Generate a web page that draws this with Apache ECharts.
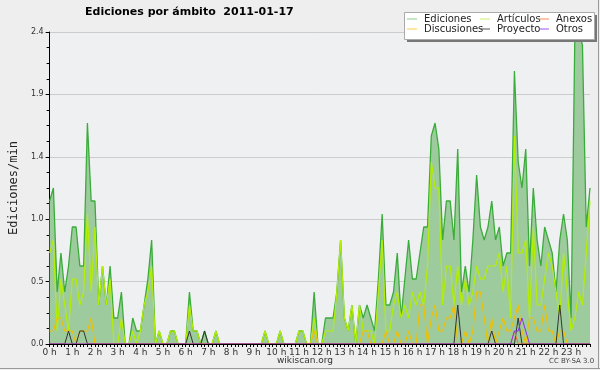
<!DOCTYPE html>
<html>
<head>
<meta charset="utf-8">
<script src="https://cdn.jsdelivr.net/npm/echarts@6/dist/echarts.min.js"></script>
<style>
html,body{margin:0;padding:0;background:#eeeeee;}
#c{width:600px;height:370px;}
</style>
</head>
<body>
<div id="c"></div>
<script>
const titleText = 'Ediciones por ámbito  2011-01-17';
const yAxisName = 'Ediciones/min';
const hourLabels = ['0 h','1 h','2 h','3 h','4 h','5 h','6 h','7 h','8 h','9 h','10 h','11 h','12 h','13 h','14 h','15 h','16 h','17 h','18 h','19 h','20 h','21 h','22 h','23 h'];
const minuteSteps = ['00','10','20','30','40','50'];
const yTicks = [0, 0.48, 0.96, 1.44, 1.92, 2.4];

const ediciones = [
1.1,1.2,0.4,0.7,0.4,0.6, 0.9,0.9,0.6,0.6,1.7,1.1, 1.1,0.3,0.6,0.3,0.6,0.2, 0.2,0.4,0,0,0.2,0.1,
0.1,0.3,0.5,0.8,0,0.1, 0,0,0.1,0.1,0,0, 0,0.4,0.1,0.1,0,0.1, 0,0,0.1,0,0,0,
0,0,0,0,0,0, 0,0,0,0.1,0,0, 0,0.1,0,0,0,0, 0.1,0.1,0,0,0.4,0,
0,0.2,0.2,0.2,0.4,0.8, 0.2,0.1,0.3,0,0.3,0.2, 0.3,0.2,0.1,0.5,1.0,0.3, 0.3,0.4,0.7,0.2,0.5,0.8,
0.5,0.5,0.7,0.9,0.9,1.6, 1.7,1.5,0.8,1.1,1.1,0.8, 1.5,0.4,0.6,0.4,0.8,1.3, 0.9,0.8,0.9,1.1,0.8,0.9,
0.6,0.7,0.7,2.1,1.4,1.2, 1.5,0.6,1.2,0.8,0.6,0.9, 0.8,0.7,0.4,0.8,1.0,0.8, 0.2,2.4,2.4,2.3,0.9,1.2
];
const articulos = [
0.7,0.8,0.1,0.5,0.3,0.1, 0.5,0.5,0.3,0.4,1.0,0.4, 0.9,0.3,0.6,0.3,0.5,0, 0,0.2,0,0,0.1,0,
0.1,0.3,0.4,0.6,0,0.1, 0,0,0.1,0.1,0,0, 0,0.3,0.1,0.1,0,0, 0,0,0.1,0,0,0,
0,0,0,0,0,0, 0,0,0,0.1,0,0, 0,0.1,0,0,0,0, 0.1,0.1,0,0,0.2,0,
0,0.1,0.1,0.1,0.4,0.8, 0.2,0.1,0.3,0,0.3,0.1, 0.1,0.1,0,0.4,0.8,0.1, 0.1,0.3,0.4,0.2,0.3,0.2,
0.4,0.3,0.4,0.3,0.6,1.4, 1.2,1.2,0.3,0.6,0.6,0.3, 0.6,0.3,0.5,0.3,0.4,0.6, 0.5,0.5,0.6,0.6,0.6,0.7,
0.4,0.6,0.2,1.6,0.7,0.7, 0.8,0.2,0.9,0.3,0.3,0.5, 0.7,0.6,0.4,0.2,0.7,0.4, 0.1,0.2,0.4,0.3,0.7,1.1
];
const discusiones = [
0.1,0.1,0.2,0.2,0.1,0.1, 0.1,0,0.1,0.1,0.1,0.2, 0,0,0,0,0,0, 0,0,0,0,0,0,
0,0,0,0,0,0, 0,0,0,0,0,0, 0,0,0,0,0,0, 0,0,0,0,0,0,
0,0,0,0,0,0, 0,0,0,0,0,0, 0,0,0,0,0,0, 0,0,0,0,0.1,0,
0,0,0,0,0,0, 0,0,0,0,0,0.1, 0.1,0,0,0,0,0.1, 0,0,0.1,0,0,0.1,
0,0,0.3,0.3,0,0.2, 0.3,0.1,0.1,0.2,0.2,0.3, 0,0,0.1,0,0.1,0.4, 0.4,0.2,0,0.2,0,0.1,
0.2,0.1,0.1,0.2,0.3,0.1, 0,0.2,0.2,0.1,0.1,0.3, 0.1,0.1,0,0.1,0.1,0, 0,0,0,0,0,0
];
const proyecto = [
0,0,0,0,0,0.1, 0,0,0.1,0.1,0,0, 0,0,0,0,0,0, 0,0,0,0,0,0,
0,0,0,0,0,0, 0,0,0,0,0,0, 0,0.1,0,0,0,0.1, 0,0,0,0,0,0,
0,0,0,0,0,0, 0,0,0,0,0,0, 0,0,0,0,0,0, 0,0,0,0,0,0,
0,0,0,0,0,0, 0,0,0,0,0,0, 0,0,0,0,0,0, 0,0,0,0,0,0,
0,0,0,0,0,0, 0,0,0,0,0,0, 0.3,0,0,0,0,0, 0,0,0,0.1,0,0,
0,0,0,0,0.2,0, 0,0,0,0,0,0, 0,0,0,0.3,0,0, 0,0,0,0,0,0
];
const anexos = [
0,0,0,0,0,0, 0,0,0,0,0,0, 0,0,0,0,0,0, 0,0,0,0,0,0,
0,0,0,0,0,0, 0,0,0,0,0,0, 0,0,0,0,0,0, 0,0,0,0,0,0,
0,0,0,0,0,0, 0,0,0,0,0,0, 0,0,0,0,0,0, 0,0,0,0,0,0,
0,0,0,0,0,0, 0,0,0,0,0,0, 0,0,0,0,0,0, 0,0,0,0,0,0,
0,0,0,0,0,0, 0,0,0,0,0,0, 0,0,0,0,0,0, 0,0,0,0,0,0,
0,0,0,0.1,0,0, 0,0,0,0,0,0, 0,0,0,0,0,0, 0,0,0,0,0,0
];
const otros = [
0,0,0,0,0,0, 0,0,0,0,0,0, 0,0,0,0,0,0, 0,0,0,0,0,0,
0,0,0,0,0,0, 0,0,0,0,0,0, 0,0,0,0,0,0, 0,0,0,0,0,0,
0,0,0,0,0,0, 0,0,0,0,0,0, 0,0,0,0,0,0, 0,0,0,0,0,0,
0,0,0,0,0,0, 0,0,0,0,0,0, 0,0,0,0,0,0, 0,0,0,0,0,0,
0,0,0,0,0,0, 0,0,0,0,0,0, 0,0,0,0,0,0, 0,0,0,0,0,0,
0,0,0,0.1,0.1,0.2, 0.1,0,0,0,0,0, 0,0,0,0,0,0, 0,0,0,0,0,0
];

const categories = [];
hourLabels.forEach((h, hi) => minuteSteps.forEach(m => categories.push(hi + ':' + m)));

const chart = echarts.init(document.getElementById('c'), null, {renderer: 'canvas'});

function lineSeries(name, data, color, width, z) {
  return {
    name: name, type: 'line', data: data, symbol: 'none', z: z,
    lineStyle: {color: color, width: width}, itemStyle: {color: color},
    emphasis: {disabled: true}, animation: false
  };
}

const legendFont = {fontFamily: 'DejaVu Sans', fontSize: 10, color: '#222'};
function legendCol(left, items) {
  return {
    orient: 'vertical', left: left, top: 14, itemGap: 0, z: 120,
    itemWidth: 10, itemHeight: 1, icon: 'rect',
    textStyle: Object.assign({}, legendFont, {padding: [0, 0, 0, 2]}),
    data: items.map(it => ({name: it[0], itemStyle: {color: it[1]}})),
    selectedMode: false, padding: 0
  };
}

chart.setOption({
  backgroundColor: '#eeeeee',
  animation: false,
  title: {
    text: titleText, left: 85, top: 7, padding: 0,
    textStyle: {fontFamily: 'DejaVu Sans', fontSize: 11, fontWeight: 'bold', color: '#000'}
  },
  legend: [
    legendCol(407, [['Ediciones', '#88cc88'], ['Discusiones', '#ffcc44']]),
    legendCol(480, [['Artículos', '#ccee66'], ['Proyecto', '#555555']]),
    legendCol(539, [['Anexos', '#ff8855'], ['Otros', '#9955ee']])
  ],
  grid: {left: 46, right: 10, top: 32, bottom: 26, show: true, backgroundColor: '#eff0f2', borderWidth: 0},
  xAxis: {
    type: 'category', data: categories, boundaryGap: false, z: 20,
    axisLine: {lineStyle: {color: '#000', width: 1}},
    axisTick: {interval: 0, length: 3, lineStyle: {color: '#000'}},
    axisLabel: {
      interval: 5, margin: 4, fontFamily: 'DejaVu Sans', fontSize: 9, color: '#333',
      formatter: (v, idx) => hourLabels[Math.floor(idx / 6)]
    },
    splitLine: {show: false}
  },
  yAxis: {
    type: 'value', min: yTicks[0], max: yTicks[yTicks.length - 1], interval: 0.48,
    name: yAxisName, nameLocation: 'middle', nameRotate: 90, nameGap: 28,
    nameTextStyle: {fontFamily: 'DejaVu Sans Mono', fontSize: 12, color: '#222'},
    axisLine: {show: true, lineStyle: {color: '#000', width: 1}},
    axisTick: {show: true, length: 4, lineStyle: {color: '#000'}},
    minorTick: {show: true, splitNumber: 4, length: 3, lineStyle: {color: '#000'}},
    axisLabel: {margin: 6, fontFamily: 'DejaVu Sans', fontSize: 8, color: '#333', formatter: v => v.toFixed(1)},
    splitLine: {lineStyle: {color: '#cccccc', width: 1}}
  },
  series: [
    Object.assign(lineSeries('Ediciones', ediciones, '#3aac3a', 1.3, 2), {
      areaStyle: {color: '#9ecb9e', opacity: 1}
    }),
    lineSeries('Artículos', articulos, '#b4ee00', 1.2, 3),
    lineSeries('Discusiones', discusiones, '#eec000', 1.1, 4),
    lineSeries('Proyecto', proyecto, '#333333', 1, 5),
    lineSeries('Anexos', anexos, '#ff6633', 1, 6),
    lineSeries('Otros', otros, '#8833ee', 1, 7)
  ],
  graphic: {
    elements: [
      {type: 'rect', shape: {x: 407, y: 15, width: 190, height: 27}, style: {fill: '#777'}, z: 50, silent: true},
      {type: 'rect', shape: {x: 404.5, y: 12.5, width: 190, height: 27}, style: {fill: '#ffffff', stroke: '#aaaaaa', lineWidth: 1}, z: 51, silent: true},
      {type: 'text', left: 277, top: 356, style: {text: 'wikiscan.org', font: '9px "DejaVu Sans"', fill: '#333'}, z: 100},
      {type: 'text', left: 549, top: 358, style: {text: 'CC BY-SA 3.0', font: '7px "DejaVu Sans"', fill: '#444'}, z: 100},
      {type: 'line', shape: {x1: 0, y1: 368.5, x2: 600, y2: 368.5}, style: {stroke: '#999', lineWidth: 1}, z: 100},
      {type: 'line', shape: {x1: 598.5, y1: 0, x2: 598.5, y2: 369}, style: {stroke: '#999', lineWidth: 1}, z: 100}
    ]
  }
});
</script>
</body>
</html>
